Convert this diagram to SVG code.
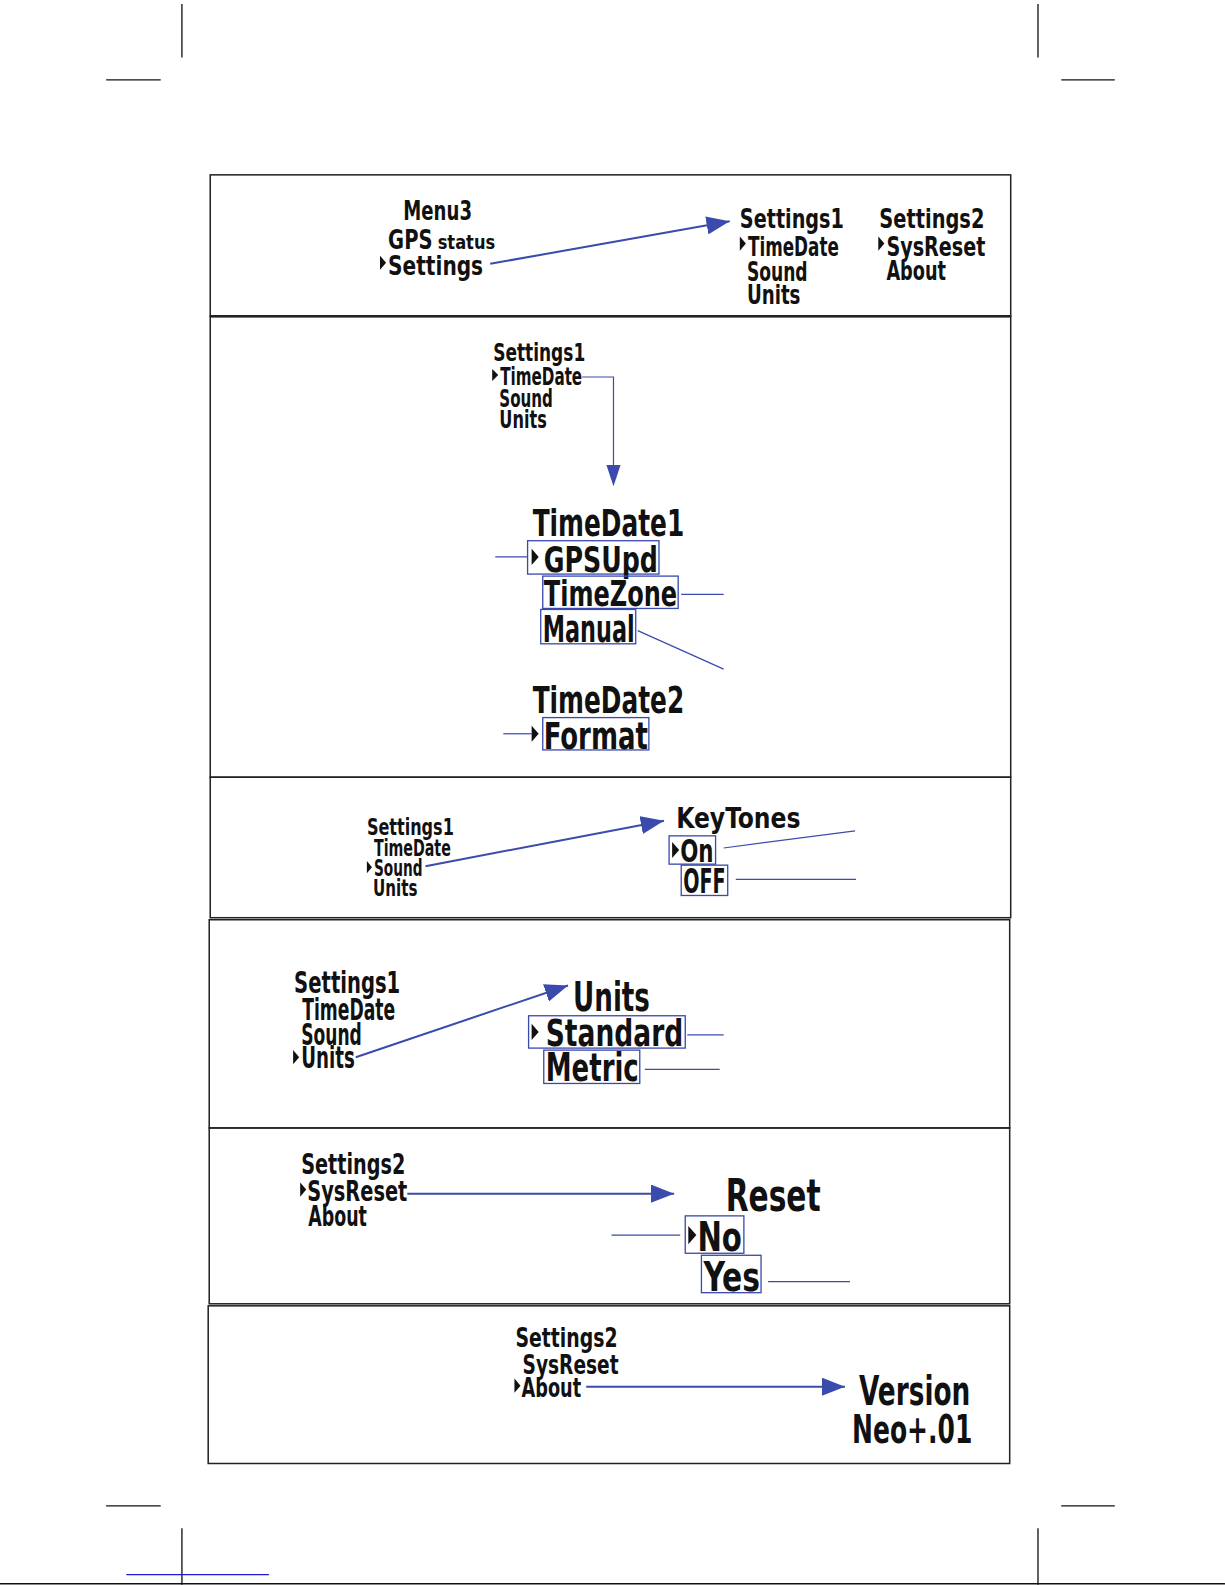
<svg xmlns="http://www.w3.org/2000/svg" width="1225" height="1585" viewBox="0 0 1225 1585">
<style>
.t{font-family:"DejaVu Sans Condensed","Liberation Sans Narrow","Liberation Sans",sans-serif;font-weight:bold;fill:#111;}
.panel{fill:none;stroke:#222;stroke-width:1.5;}
.crop{stroke:#111;stroke-width:1.3;fill:none;}
.arr{stroke:#3a4aad;stroke-width:2;fill:none;}
.call{stroke:#3a4aad;stroke-width:1.2;fill:none;}
.box{stroke:#3a4aad;stroke-width:1.3;fill:none;}
.tri{fill:#111;}
</style>
<defs>
<marker id="ah" markerUnits="userSpaceOnUse" markerWidth="24" markerHeight="18" refX="23" refY="9" orient="auto">
<path d="M0,0 L23,9 L0,18 z" fill="#3a4aad"/>
</marker>
</defs>
<rect width="1225" height="1585" fill="#fff"/>
<g transform="scale(1.0107)">
<g id="crop-marks">
<line class="crop" x1="180" y1="4" x2="180" y2="57"/>
<line class="crop" x1="105" y1="79" x2="159" y2="79"/>
<line class="crop" x1="1027" y1="4" x2="1027" y2="57"/>
<line class="crop" x1="1050" y1="79" x2="1103" y2="79"/>
<line class="crop" x1="105" y1="1490" x2="159" y2="1490"/>
<line class="crop" x1="180" y1="1512" x2="180" y2="1568"/>
<line class="crop" x1="1050" y1="1490" x2="1103" y2="1490"/>
<line class="crop" x1="1027" y1="1512" x2="1027" y2="1568"/>
<line x1="125" y1="1558" x2="266" y2="1558" stroke="#1a1ad0" stroke-width="1.3"/>
<line class="crop" x1="0" y1="1567" x2="1212" y2="1567"/>
</g>
<g id="panels">
<rect class="panel" x="208" y="173" width="792" height="140"/>
<rect class="panel" x="208" y="313" width="792" height="456"/>
<line x1="208" y1="313" x2="1000" y2="313" stroke="#222" stroke-width="2.5"/>
<rect class="panel" x="208" y="769" width="792" height="139"/>
<rect class="panel" x="207" y="910" width="792" height="206"/>
<rect class="panel" x="207" y="1116" width="792" height="174"/>
<rect class="panel" x="206" y="1292" width="793" height="156"/>
</g>

<g id="p1-menu3">
<text class="t" x="399" y="218" font-size="27" textLength="68" lengthAdjust="spacingAndGlyphs">Menu3</text>
<text class="t" x="384" y="246" font-size="27" textLength="44" lengthAdjust="spacingAndGlyphs">GPS</text>
<text class="t" x="433" y="246" font-size="20" textLength="57" lengthAdjust="spacingAndGlyphs">status</text>
<path class="tri" d="M376,253 L382,260 L376,267 z"/>
<text class="t" x="384" y="272" font-size="27" textLength="94" lengthAdjust="spacingAndGlyphs">Settings</text>
</g>
<g id="p1-settings1">
<text class="t" x="732" y="226" font-size="27" textLength="103" lengthAdjust="spacingAndGlyphs">Settings1</text>
<path class="tri" d="M732,234 L738,241 L732,248 z"/>
<text class="t" x="740" y="253" font-size="27" textLength="90" lengthAdjust="spacingAndGlyphs">TimeDate</text>
<text class="t" x="739" y="278" font-size="27" textLength="60" lengthAdjust="spacingAndGlyphs">Sound</text>
<text class="t" x="739" y="301" font-size="27" textLength="53" lengthAdjust="spacingAndGlyphs">Units</text>
</g>
<g id="p1-settings2">
<text class="t" x="870" y="226" font-size="27" textLength="104" lengthAdjust="spacingAndGlyphs">Settings2</text>
<path class="tri" d="M869,234 L875,241 L869,248 z"/>
<text class="t" x="877" y="253" font-size="27" textLength="98" lengthAdjust="spacingAndGlyphs">SysReset</text>
<text class="t" x="877" y="277" font-size="27" textLength="59" lengthAdjust="spacingAndGlyphs">About</text>
</g>

<g id="p2-settings1">
<text class="t" x="488" y="357" font-size="24" textLength="91" lengthAdjust="spacingAndGlyphs">Settings1</text>
<path class="tri" d="M487,365 L493,371 L487,377 z"/>
<text class="t" x="495" y="381" font-size="24" textLength="81" lengthAdjust="spacingAndGlyphs">TimeDate</text>
<text class="t" x="494" y="403" font-size="24" textLength="53" lengthAdjust="spacingAndGlyphs">Sound</text>
<text class="t" x="494" y="423" font-size="24" textLength="47" lengthAdjust="spacingAndGlyphs">Units</text>
</g>
<g id="p2-timedate1">
<text class="t" x="527" y="530" font-size="36" textLength="150" lengthAdjust="spacingAndGlyphs">TimeDate1</text>
<rect class="box" x="522" y="535" width="130" height="33"/>
<path class="tri" d="M526,543 L533,551 L526,559 z"/>
<text class="t" x="538" y="566" font-size="35" textLength="113" lengthAdjust="spacingAndGlyphs">GPSUpd</text>
<rect class="box" x="537" y="570" width="134" height="32"/>
<text class="t" x="538" y="600" font-size="35" textLength="132" lengthAdjust="spacingAndGlyphs">TimeZone</text>
<rect class="box" x="535" y="603" width="94" height="34"/>
<text class="t" x="537" y="635" font-size="37" textLength="91" lengthAdjust="spacingAndGlyphs">Manual</text>
</g>
<g id="p2-timedate2">
<text class="t" x="527" y="705" font-size="36" textLength="150" lengthAdjust="spacingAndGlyphs">TimeDate2</text>
<rect class="box" x="537" y="710" width="105" height="32"/>
<path class="tri" d="M526,718 L533,726 L526,734 z"/>
<text class="t" x="538" y="741" font-size="36" textLength="103" lengthAdjust="spacingAndGlyphs">Format</text>
</g>

<g id="p3-settings1">
<text class="t" x="363" y="826" font-size="22" textLength="86" lengthAdjust="spacingAndGlyphs">Settings1</text>
<text class="t" x="370" y="847" font-size="22" textLength="76" lengthAdjust="spacingAndGlyphs">TimeDate</text>
<path class="tri" d="M363,852 L368,858 L363,864 z"/>
<text class="t" x="370" y="867" font-size="22" textLength="48" lengthAdjust="spacingAndGlyphs">Sound</text>
<text class="t" x="369" y="887" font-size="22" textLength="44" lengthAdjust="spacingAndGlyphs">Units</text>
</g>
<g id="p3-keytones">
<text class="t" x="669" y="819" font-size="28" textLength="123" lengthAdjust="spacingAndGlyphs">KeyTones</text>
<rect class="box" x="662" y="827" width="46" height="28"/>
<path class="tri" d="M665,833 L672,841 L665,849 z"/>
<text class="t" x="673" y="853" font-size="32" textLength="33" lengthAdjust="spacingAndGlyphs">On</text>
<rect class="box" x="674" y="856" width="46" height="30"/>
<text class="t" x="676" y="884" font-size="33" textLength="42" lengthAdjust="spacingAndGlyphs">OFF</text>
</g>

<g id="p4-settings1">
<text class="t" x="291" y="982" font-size="29" textLength="105" lengthAdjust="spacingAndGlyphs">Settings1</text>
<text class="t" x="299" y="1009" font-size="29" textLength="92" lengthAdjust="spacingAndGlyphs">TimeDate</text>
<text class="t" x="298" y="1034" font-size="29" textLength="60" lengthAdjust="spacingAndGlyphs">Sound</text>
<path class="tri" d="M290,1039 L296,1046 L290,1053 z"/>
<text class="t" x="298" y="1057" font-size="29" textLength="53" lengthAdjust="spacingAndGlyphs">Units</text>
</g>
<g id="p4-units">
<text class="t" x="567" y="1000" font-size="41" textLength="76" lengthAdjust="spacingAndGlyphs">Units</text>
<rect class="box" x="523" y="1005" width="155" height="32"/>
<path class="tri" d="M526,1013 L533,1021 L526,1029 z"/>
<text class="t" x="540" y="1035" font-size="37" textLength="136" lengthAdjust="spacingAndGlyphs">Standard</text>
<rect class="box" x="538" y="1039" width="95" height="33"/>
<text class="t" x="540" y="1070" font-size="38" textLength="92" lengthAdjust="spacingAndGlyphs">Metric</text>
</g>

<g id="p5-settings2">
<text class="t" x="298" y="1162" font-size="28" textLength="103" lengthAdjust="spacingAndGlyphs">Settings2</text>
<path class="tri" d="M297,1170 L303,1177 L297,1184 z"/>
<text class="t" x="304" y="1188" font-size="28" textLength="99" lengthAdjust="spacingAndGlyphs">SysReset</text>
<text class="t" x="305" y="1213" font-size="28" textLength="58" lengthAdjust="spacingAndGlyphs">About</text>
</g>
<g id="p5-reset">
<text class="t" x="718" y="1198" font-size="44" textLength="94" lengthAdjust="spacingAndGlyphs">Reset</text>
<rect class="box" x="678" y="1203" width="58" height="37"/>
<path class="tri" d="M681,1213 L689,1222 L681,1231 z"/>
<text class="t" x="690" y="1238" font-size="40" textLength="44" lengthAdjust="spacingAndGlyphs">No</text>
<rect class="box" x="694" y="1242" width="59" height="37"/>
<text class="t" x="696" y="1277" font-size="41" textLength="56" lengthAdjust="spacingAndGlyphs">Yes</text>
</g>

<g id="p6-settings2">
<text class="t" x="510" y="1333" font-size="27" textLength="101" lengthAdjust="spacingAndGlyphs">Settings2</text>
<text class="t" x="517" y="1359" font-size="27" textLength="95" lengthAdjust="spacingAndGlyphs">SysReset</text>
<path class="tri" d="M509,1364 L515,1371 L509,1378 z"/>
<text class="t" x="516" y="1382" font-size="27" textLength="59" lengthAdjust="spacingAndGlyphs">About</text>
</g>
<g id="p6-version">
<text class="t" x="850" y="1390" font-size="41" textLength="110" lengthAdjust="spacingAndGlyphs">Version</text>
<text class="t" x="843" y="1428" font-size="39" textLength="119" lengthAdjust="spacingAndGlyphs">Neo+.01</text>
</g>

<g id="connectors">
<line class="arr" x1="485" y1="261" x2="722" y2="219" marker-end="url(#ah)"/>
<path class="call" d="M576,373 H607 V462" stroke-width="1.5"/>
<path d="M600,460 L614,460 L607,481 z" fill="#3a4aad"/>
<line class="call" x1="490" y1="551" x2="522" y2="551"/>
<line class="call" x1="674" y1="588" x2="716" y2="588"/>
<line class="call" x1="631" y1="624" x2="716" y2="662"/>
<line class="call" x1="498" y1="726" x2="526" y2="726"/>
<line class="arr" x1="421" y1="857" x2="657" y2="812" marker-end="url(#ah)"/>
<line class="call" x1="716" y1="839" x2="846" y2="822"/>
<line class="call" x1="728" y1="870" x2="847" y2="870"/>
<line class="arr" x1="352" y1="1046" x2="562" y2="975" marker-end="url(#ah)"/>
<line class="call" x1="680" y1="1024" x2="716" y2="1024"/>
<line class="call" x1="638" y1="1058" x2="712" y2="1058"/>
<line class="arr" x1="403" y1="1181" x2="667" y2="1181" marker-end="url(#ah)"/>
<line class="call" x1="605" y1="1222" x2="673" y2="1222"/>
<line class="call" x1="760" y1="1268" x2="841" y2="1268"/>
<line class="arr" x1="580" y1="1372" x2="836" y2="1372" marker-end="url(#ah)"/>
</g>
</g>
</svg>
